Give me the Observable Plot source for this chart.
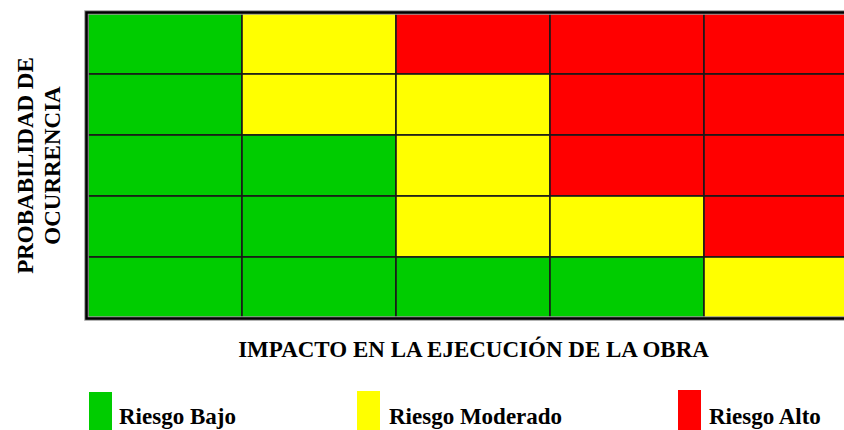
<!DOCTYPE html>
<html>
<head>
<meta charset="utf-8">
<script src="https://cdn.jsdelivr.net/npm/d3@7"></script>
<script src="https://cdn.jsdelivr.net/npm/@observablehq/plot@0.6"></script>
<style>
  html, body { margin: 0; padding: 0; background: #fff; }
  #wrap { position: relative; width: 844px; height: 430px; overflow: hidden; background: #fff; }
  #wrap svg { max-width: none !important; display: block; }
  .sw { position: absolute; width: 23px; height: 40px; }
  .lt { position: absolute; font: bold 23px "Liberation Serif", "Times New Roman", serif; line-height: 23px; color: #000; white-space: nowrap; }
</style>
</head>
<body>
<div id="wrap"></div>
<script>
// Data
const impacto = [1, 2, 3, 4, 5];                 // columns, left to right
const probabilidad = [5, 4, 3, 2, 1];            // rows, top to bottom
const riesgo = [                                 // one row per probability level
  ["Riesgo Bajo", "Riesgo Moderado", "Riesgo Alto", "Riesgo Alto", "Riesgo Alto"],
  ["Riesgo Bajo", "Riesgo Moderado", "Riesgo Moderado", "Riesgo Alto", "Riesgo Alto"],
  ["Riesgo Bajo", "Riesgo Bajo", "Riesgo Moderado", "Riesgo Alto", "Riesgo Alto"],
  ["Riesgo Bajo", "Riesgo Bajo", "Riesgo Moderado", "Riesgo Moderado", "Riesgo Alto"],
  ["Riesgo Bajo", "Riesgo Bajo", "Riesgo Bajo", "Riesgo Bajo", "Riesgo Moderado"]
];
const niveles = ["Riesgo Bajo", "Riesgo Moderado", "Riesgo Alto"];
const colores = ["#00CC00", "#FFFF00", "#FF0000"];
const tituloX = "IMPACTO EN LA EJECUCIÓN DE LA OBRA";
const tituloY = "PROBABILIDAD DE\nOCURRENCIA";

const cells = [];
probabilidad.forEach((p, i) => impacto.forEach((c, j) => cells.push({impacto: c, probabilidad: p, riesgo: riesgo[i][j]})));

const font = '"Liberation Serif", "Times New Roman", serif';

const chart = Plot.plot({
  width: 860,
  height: 430,
  marginTop: 12,
  marginBottom: 112,
  marginLeft: 86,
  marginRight: 0,
  style: {fontFamily: font, background: "#fff", maxWidth: "none"},
  x: {domain: impacto, padding: 0, axis: null},
  y: {domain: probabilidad, padding: 0, axis: null},
  color: {domain: niveles, range: colores},
  marks: [
    Plot.cell(cells, {x: "impacto", y: "probabilidad", fill: "riesgo", stroke: "#1a1a1a", strokeWidth: 1.6}),
    Plot.frame({stroke: "#9a9a9a", strokeWidth: 4.5}),
    Plot.frame({stroke: "#000", strokeWidth: 2.5}),
    Plot.text([tituloX], {text: d => d, frameAnchor: "bottom", dy: 31.5, fontSize: 23, fontWeight: "bold", fill: "#000", lineAnchor: "middle"}),
    Plot.text([tituloY], {text: d => d, frameAnchor: "left", dx: -49, rotate: -90, fontSize: 23, fontWeight: "bold", fill: "#000", textAnchor: "middle", lineAnchor: "middle", lineHeight: 1.2})
  ]
});
const wrap = document.getElementById("wrap");
wrap.appendChild(chart);

// Legend (HTML)
const legendPos = [{sw: 89, tx: 119, top: 392}, {sw: 357, tx: 389, top: 391}, {sw: 678, tx: 709, top: 390}];
niveles.forEach((n, i) => {
  const s = document.createElement("div");
  s.className = "sw";
  s.style.left = legendPos[i].sw + "px";
  s.style.top = legendPos[i].top + "px";
  s.style.background = colores[i];
  wrap.appendChild(s);
  const t = document.createElement("div");
  t.className = "lt";
  t.style.left = legendPos[i].tx + "px";
  t.style.top = "405px";
  t.textContent = n;
  wrap.appendChild(t);
});
</script>
</body>
</html>
